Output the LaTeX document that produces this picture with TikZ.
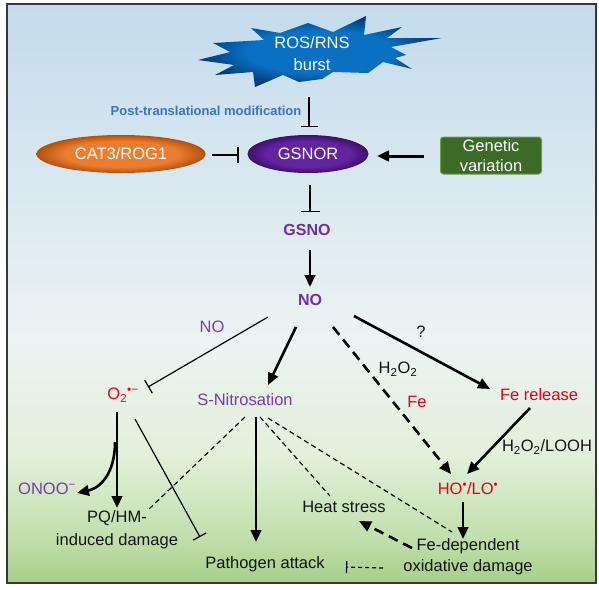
\documentclass[tikz,border=0pt]{standalone}
\usepackage{fontspec}
\setmainfont{Liberation Sans}
\usetikzlibrary{arrows.meta,shapes.geometric}
\definecolor{orMain}{HTML}{EC7C2E}
\definecolor{orDark}{HTML}{B4500E}
\definecolor{puMain}{HTML}{6424A0}
\definecolor{puDark}{HTML}{3E0E6E}
\definecolor{blMain}{HTML}{0A70C2}
\definecolor{blDark}{HTML}{003A78}
\definecolor{bgB}{HTML}{C3DBEC}
\definecolor{bgB2}{HTML}{D9E8F0}
\definecolor{bgW}{HTML}{ECF3F3}
\definecolor{bgW2}{HTML}{E2F0DA}
\definecolor{bgG2}{HTML}{C2DFAD}
\definecolor{bgG}{HTML}{A5CF88}
\definecolor{gnFill}{HTML}{3C6B28}
\definecolor{gnEdge}{HTML}{6C9C4C}
\definecolor{ptBlue}{HTML}{3D72C9}
\definecolor{txPurple}{HTML}{7A3BB3}
\definecolor{bdPurple}{HTML}{7030A0}
\definecolor{txRed}{HTML}{E2001A}
\definecolor{txBlack}{HTML}{141414}
\pgfdeclareradialshading{orangeedge}{\pgfpoint{0bp}{0bp}}{color(0bp)=(orMain); color(17bp)=(orMain); color(25bp)=(orDark); color(50bp)=(orDark)}
\pgfdeclareradialshading{purpleedge}{\pgfpoint{0bp}{0bp}}{color(0bp)=(puMain); color(17bp)=(puMain); color(25bp)=(puDark); color(50bp)=(puDark)}
\pgfdeclareradialshading{blueedge}{\pgfpoint{0bp}{0bp}}{color(0bp)=(blMain); color(15bp)=(blMain); color(25bp)=(blDark); color(50bp)=(blDark)}
\pgfdeclareverticalshading{bgshade}{100bp}{color(0bp)=(bgG); color(25bp)=(bgG); color(29bp)=(bgG2); color(36bp)=(bgW2); color(46bp)=(bgW); color(60bp)=(bgB2); color(75bp)=(bgB); color(100bp)=(bgB)}
\begin{document}
\begin{tikzpicture}[x=1pt,y=-1pt,
  lbl/.style={font=\fontsize{16.5}{21}\selectfont, text=txBlack, inner sep=1pt, align=center},
  lblp/.style={lbl, text=txPurple},
  lblr/.style={lbl, text=txRed},
  bold/.style={font=\fontsize{16}{19}\selectfont\bfseries, text=bdPurple, inner sep=1pt},
  arr/.style={line width=2.6pt, -{Triangle[length=12pt,width=10.5pt]}},
  darr/.style={arr, dash pattern=on 10pt off 6pt},
  inh/.style={line width=1.4pt, -{Bar[width=17pt]}},
  thininh/.style={line width=1.2pt, -{Bar[width=15pt]}},
  dl/.style={line width=1.2pt, dash pattern=on 5pt off 3.5pt}]
\useasboundingbox (0,0) rectangle (599,589);
\fill[white] (0,0) rectangle (599,589);
\shade[shading=bgshade] (7,4) rectangle (596,583);
\draw[line width=2pt, draw={rgb,255:red,55;green,55;blue,55}] (7,4) rectangle (596,583);

% star
\shade[shading=blueedge] (198,60) -- (230,52) -- (213,43) -- (264,40) -- (251,28) -- (280,33) -- (308,23) -- (333,32) -- (366,16) -- (364,35) -- (402,27) -- (387,38) -- (442,38) -- (391,47) -- (406,55) -- (395,58) -- (412,69) -- (383,62) -- (368,73) -- (333,72) -- (322,79) -- (299,82) -- (283,75) -- (255,87) -- (253,72) -- (215,75) -- (234,65) -- cycle;
\node[lbl, text=white, font=\fontsize{16.5}{22}\selectfont] (ros) at (312,54) {ROS/RNS\\burst};

\node[font=\fontsize{13}{15}\selectfont\bfseries, text=ptBlue, inner sep=1pt] (ptm) at (206,111) {Post-translational modification};

\node[ellipse, shading=orangeedge, minimum width=169pt, minimum height=38pt, inner sep=0pt, text=white, font=\fontsize{16.5}{20}\selectfont] (cat) at (121,154) {CAT3/ROG1};
\node[ellipse, shading=purpleedge, minimum width=121pt, minimum height=38pt, inner sep=0pt, text=white, font=\fontsize{16.5}{20}\selectfont] (gsnor) at (308,154) {GSNOR};
\node[rectangle, rounded corners=3pt, fill=gnFill, draw=gnEdge, line width=1pt, minimum width=101pt, minimum height=37pt, inner sep=0pt, align=center, text=white, font=\fontsize{16.5}{20}\selectfont] (gen) at (491,155.5) {Genetic\\variation};

\node[bold] (gsno) at (307,230) {GSNO};
\node[bold] (no) at (310,300) {NO};
\node[lblp] (nolbl) at (212,327) {NO};
\node[lblr] (o2) at (123,395) {O\textsubscript{2}\textsuperscript{•−}};
\node[lblp] (sn) at (245,400) {S-Nitrosation};
\node[lbl] (h2o2) at (398,369) {H\textsubscript{2}O\textsubscript{2}};
\node[lblr] (fe) at (417,402) {Fe};
\node[lbl] (q) at (421,332) {?};
\node[lblr] (ferel) at (539,395) {Fe release};
\node[lbl] (looh) at (547,447) {H\textsubscript{2}O\textsubscript{2}/LOOH};
\node[lblr] (ho) at (468,489) {HO\textsuperscript{•}/LO\textsuperscript{•}};
\node[lblp] (onoo) at (47,489) {ONOO\textsuperscript{−}};
\node[lbl, font=\fontsize{16.5}{23}\selectfont] (pq) at (117,529.5) {PQ/HM-\\induced damage};
\node[lbl] (heat) at (344,507) {Heat stress};
\node[lbl] (path) at (265,564) {Pathogen attack};
\node[lbl] (fed) at (468,556.5) {Fe-dependent\\oxidative damage};

% connector end points
\coordinate (c1a) at (309,97);   \coordinate (c1b) at (309,127);
\coordinate (c2a) at (212,155);  \coordinate (c2b) at (239,155);
\coordinate (c3a) at (424,156);  \coordinate (c3b) at (377,156);
\coordinate (c4a) at (310,185);  \coordinate (c4b) at (310,212);
\coordinate (c5a) at (310,250);  \coordinate (c5b) at (310,287);
\coordinate (c6a) at (268,317);  \coordinate (c6b) at (148,387);
\coordinate (c7a) at (296,327);  \coordinate (c7b) at (268,385);
\coordinate (c8a) at (333,327);  \coordinate (c8b) at (451,474);
\coordinate (c9a) at (354,316);  \coordinate (c9b) at (490,389);
\coordinate (c10a) at (530,408); \coordinate (c10b) at (467,474);
\coordinate (c11a) at (463,502); \coordinate (c11b) at (463,539);
\coordinate (c12a) at (412,548); \coordinate (c12b) at (359,521);
\coordinate (c13a) at (383,568); \coordinate (c13b) at (346,567);
\coordinate (c14a) at (256,417); \coordinate (c14b) at (256,542);
\coordinate (c15a) at (245,417); \coordinate (c15b) at (148,510);
\coordinate (c16a) at (260,417); \coordinate (c16b) at (330,496);
\coordinate (c17a) at (268,418); \coordinate (c17b) at (452,532);
\coordinate (c18a) at (117,412); \coordinate (c18b) at (117,508);
\coordinate (c19a) at (115,442); \coordinate (c19b) at (77,493);
\coordinate (c20a) at (135,419); \coordinate (c20b) at (200,537);

\draw[inh] (c1a) -- (c1b);
\draw[line width=1.6pt, -{Bar[width=16pt]}] (c2a) -- (c2b);
\draw[arr, line width=3pt] (c3a) -- (c3b);
\draw[inh, -{Bar[width=19pt]}] (c4a) -- (c4b);
\draw[arr] (c5a) -- (c5b);
\draw[thininh] (c6a) -- (c6b);
\draw[arr] (c7a) -- (c7b);
\draw[darr] (c8a) -- (c8b);
\draw[arr] (c9a) -- (c9b);
\draw[arr] (c10a) -- (c10b);
\draw[arr] (c11a) -- (c11b);
\draw[darr] (c12a) -- (c12b);
\draw[line width=1.2pt, dash pattern=on 4pt off 3pt, -{Bar[width=12pt]}] (c13a) -- (c13b);
\draw[arr] (c14a) -- (c14b);
\draw[dl] (c15a) -- (c15b);
\draw[dl] (c16a) -- (c16b);
\draw[dl] (c17a) -- (c17b);
\draw[arr] (c18a) -- (c18b);
\draw[arr] (c19a) .. controls (115,474) and (100,488) .. (c19b);
\draw[thininh] (c20a) -- (c20b);
\end{tikzpicture}
\end{document}
